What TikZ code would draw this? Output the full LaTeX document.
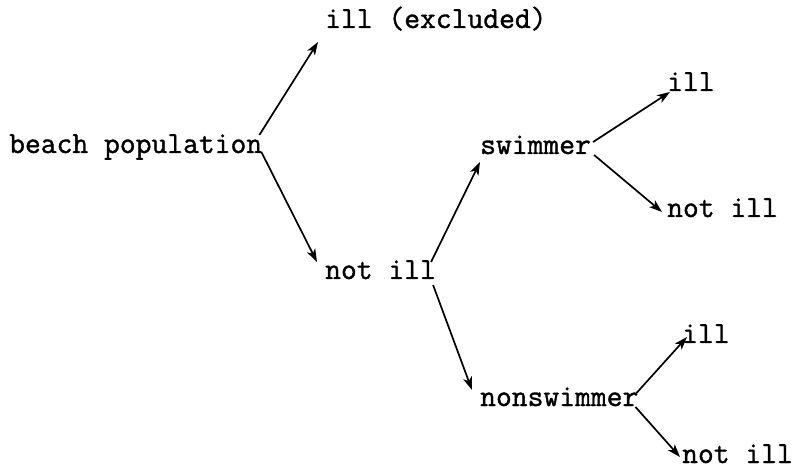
\documentclass[tikz,border=0pt]{standalone}
\usepackage{fontspec}
\usetikzlibrary{arrows.meta,calc}
\newfontfamily\typewriter[FakeBold=1.2]{Latin Modern Mono}
\begin{document}
\begin{tikzpicture}[x=1bp,y=-1bp,
  lbl/.style={anchor=base west,inner sep=0pt,font=\fontsize{30.7bp}{36bp}\selectfont\typewriter},
  arr/.style={-{Stealth[length=13bp,width=9bp,inset=3.5bp]},line width=1.7bp}]
\useasboundingbox (0,0) rectangle (796,472);
% labels
\node[lbl] (beach)  at (9,153)   {beach population};
\node[lbl] (excl)   at (325,28)  {ill (excluded)};
\node[lbl] (notill) at (325,279) {not ill};
\node[lbl] (swim)   at (480,154) {swimmer};
\node[lbl] (nonsw)  at (480,406) {nonswimmer};
\node[lbl] (sill)   at (667,91)  {ill};
\node[lbl] (snot)   at (667,217) {not ill};
\node[lbl] (nill)   at (682,343) {ill};
\node[lbl] (nnot)   at (682,463) {not ill};
% branches
\draw[arr] ($(beach.base east)+(-3,-18)$) -- ($(excl.base west)+(-7,14)$);
\draw[arr] ($(beach.base east)+(-1,-1)$)  -- ($(notill.base west)+(-8,-17)$);
\draw[arr] ($(notill.base east)+(-5,-17)$) -- ($(swim.base west)+(0,8)$);
\draw[arr] ($(notill.base east)+(-3,6)$)  -- ($(nonsw.base west)+(-8,-16)$);
\draw[arr] ($(swim.base east)+(2,-12)$)  -- ($(sill.base west)+(3,1)$);
\draw[arr] ($(swim.base east)+(3,1)$)    -- ($(snot.base west)+(-5,-5)$);
\draw[arr] ($(nonsw.base east)+(-2,-13)$) -- ($(nill.base west)+(5,-6)$);
\draw[arr] ($(nonsw.base east)+(-3,1)$)   -- ($(nnot.base west)+(-2,-6)$);
\end{tikzpicture}
\end{document}
